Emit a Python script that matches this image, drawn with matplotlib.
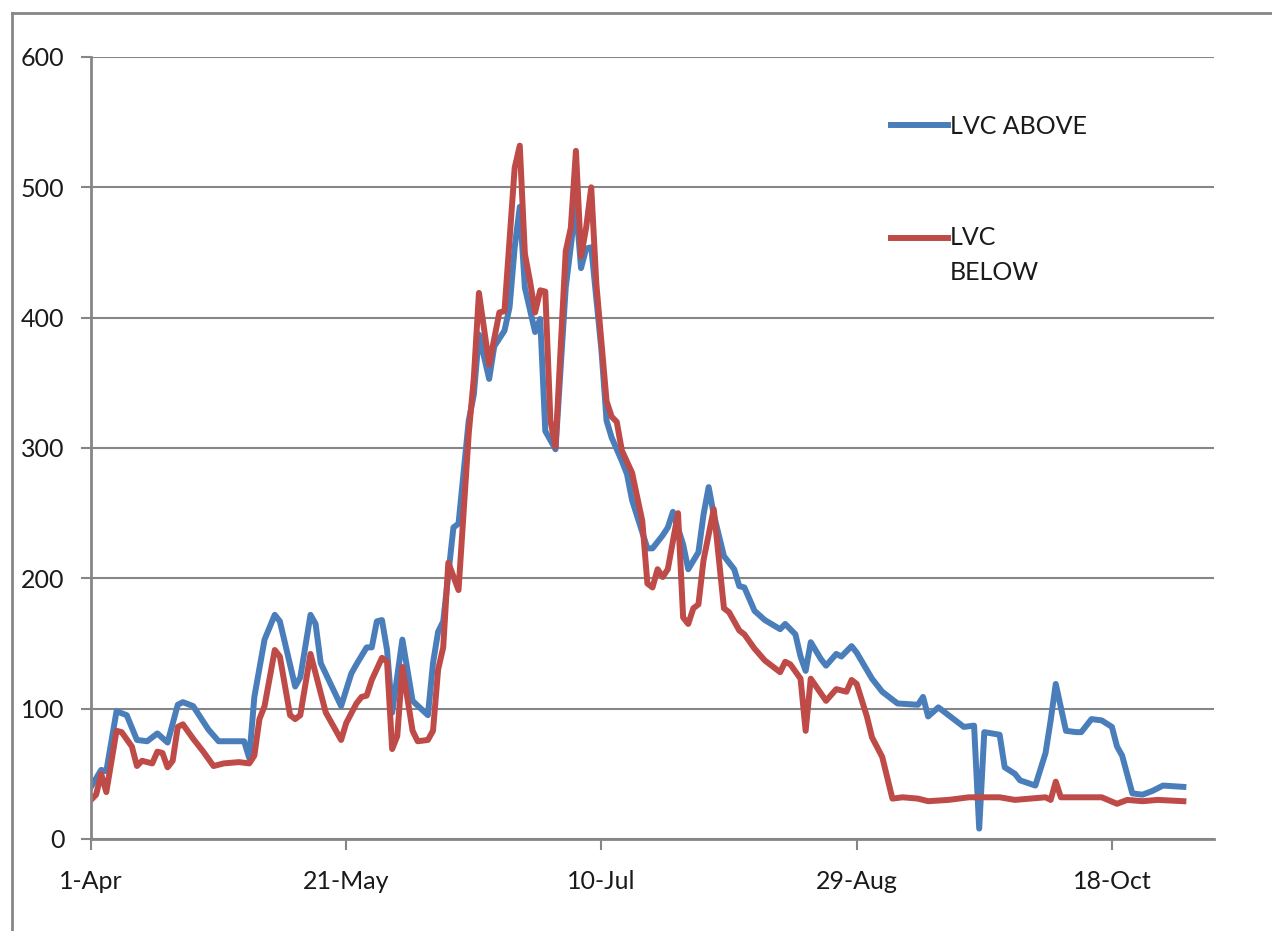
import matplotlib
matplotlib.use("Agg")
import matplotlib.pyplot as plt
import numpy as np
from matplotlib.lines import Line2D
from matplotlib.legend_handler import HandlerLine2D

plt.rcParams['font.family'] = ['Lato', 'DejaVu Sans']

# days since 1-Apr
above_days = [0, 2, 3, 5, 7, 9, 11, 13, 15, 17, 18, 20, 23, 25, 27, 30, 31, 32, 34, 36, 37,
              40, 41, 43, 44, 45, 49, 51, 52, 54, 55, 56, 57, 58, 59, 61, 63, 66, 67, 68, 69,
              71, 72, 74, 75, 76, 78, 79, 81, 82, 83, 84, 85, 87, 88, 89, 91, 93, 95, 96, 97,
              98, 100, 101, 102, 104, 105, 106, 109, 110, 112, 113, 114, 116, 117, 119, 120, 121,
              122, 124, 126, 127, 128, 130, 132, 135, 136, 138, 139, 140, 141, 143, 144, 146, 147,
              149, 150, 153, 155, 158, 162, 163, 164, 166, 168, 171, 173, 174, 175, 178, 179, 181,
              182, 185, 187, 188, 189, 191, 193, 194, 196, 198, 200, 201, 202, 204, 206, 208, 210,
              214]
above_vals = [40, 53, 52, 98, 95, 76, 75, 81, 74, 103, 105, 102, 84, 75, 75, 75, 62, 109, 153,
              172, 167, 117, 124, 172, 165, 135, 102, 127, 134, 147, 147, 167, 168, 145, 97, 153,
              106, 95, 135, 159, 167, 239, 242, 321, 341, 387, 353, 378, 390, 408, 454, 485, 423,
              389, 399, 313, 299, 423, 487, 438, 453, 454, 375, 321, 308, 290, 280, 260, 223, 223,
              233, 239, 251, 226, 207, 220, 249, 270, 249, 217, 207, 194, 193, 175, 168, 161, 165,
              157, 140, 129, 151, 138, 133, 142, 140, 148, 143, 123, 113, 104, 103, 109, 94, 101,
              95, 86, 87, 8, 82, 80, 55, 50, 45, 41, 66, 91, 119, 83, 82, 82, 92, 91, 86, 71, 64,
              35, 34, 37, 41, 40]

below_days = [0, 1, 2, 3, 5, 6, 8, 9, 10, 12, 13, 14, 15, 16, 17, 18, 20, 22, 24, 26, 29, 31,
              32, 33, 34, 36, 37, 39, 40, 41, 43, 45, 46, 49, 50, 52, 53, 54, 55, 57, 58, 59, 60,
              61, 63, 64, 66, 67, 68, 69, 70, 72, 74, 75, 76, 78, 80, 81, 83, 84, 85, 86, 87, 88,
              89, 90, 91, 93, 94, 95, 96, 97, 98, 99, 101, 102, 103, 104, 106, 108, 109, 110, 111,
              112, 113, 115, 116, 117, 118, 119, 120, 122, 124, 125, 127, 128, 130, 132, 135, 136,
              137, 139, 140, 141, 144, 146, 148, 149, 150, 152, 153, 155, 157, 159, 162, 164, 168,
              172, 178, 181, 187, 188, 189, 190, 198, 201, 203, 206, 209, 214]
below_vals = [30, 34, 50, 36, 83, 82, 71, 56, 60, 58, 67, 66, 55, 60, 86, 88, 77, 67, 56, 58, 59,
              58, 64, 92, 102, 145, 140, 95, 92, 95, 142, 112, 97, 76, 89, 104, 109, 110, 122,
              139, 136, 69, 79, 132, 83, 75, 76, 83, 130, 147, 212, 191, 311, 354, 419, 364, 404,
              405, 515, 532, 449, 428, 404, 421, 420, 321, 301, 451, 469, 528, 447, 469, 500, 426,
              336, 324, 320, 298, 281, 244, 196, 193, 207, 201, 207, 250, 170, 165, 177, 180, 214,
              253, 177, 174, 160, 157, 146, 137, 128, 136, 134, 123, 83, 123, 106, 115, 113, 122,
              119, 94, 78, 63, 31, 32, 31, 29, 30, 32, 32, 30, 32, 30, 44, 32, 32, 27, 30, 29, 30,
              29]

tick_days = [0, 50, 100, 150, 200]
tick_labels = ['1-Apr', '21-May', '10-Jul', '29-Aug', '18-Oct']
y_ticks = [0, 100, 200, 300, 400, 500, 600]

blue = '#4a7ebb'
red = '#be4b48'
grey = '#868686'


class FirstLineHandler(HandlerLine2D):
    # put the legend sample level with the first line of a two-line label
    def __init__(self, dy, **kw):
        super().__init__(**kw)
        self.dy = dy

    def create_artists(self, legend, orig_handle, xdescent, ydescent, width, height, fontsize, trans):
        arts = super().create_artists(legend, orig_handle, xdescent, ydescent, width, height,
                                      fontsize, trans)
        for a in arts:
            a.set_ydata(np.asarray(a.get_ydata()) + self.dy)
        return arts


fig = plt.figure(figsize=(12.72, 9.31), dpi=100)
ax = fig.add_axes([91 / 1272, 1 - 839 / 931, (1214 - 91) / 1272, (839 - 57) / 931])

l1, = ax.plot(above_days, above_vals, color=blue, lw=4.3, solid_joinstyle='round', label='LVC ABOVE')
l2, = ax.plot(below_days, below_vals, color=red, lw=4.3, solid_joinstyle='round', label='LVC\nBELOW')

ax.set_xlim(0, 220)
ax.set_ylim(0, 600)
ax.set_yticks(y_ticks)
ax.set_xticks(tick_days)
ax.set_xticklabels(tick_labels)
ax.grid(axis='y', color=grey, lw=1.5)
ax.set_axisbelow(True)

for s in ['top', 'right']:
    ax.spines[s].set_visible(False)
for s in ['left', 'bottom']:
    ax.spines[s].set_color(grey)
    ax.spines[s].set_linewidth(2)
ax.tick_params(axis='y', length=7, width=1.5, color=grey, pad=12, labelsize=18, labelcolor='#1a1a1a')
ax.tick_params(axis='x', length=8, width=1.5, color=grey, pad=14, labelsize=18, labelcolor='#1a1a1a')

leg = ax.legend(handles=[l1, l2], loc='upper left', bbox_to_anchor=(868 / 1272, 1 - 92 / 931),
                bbox_transform=fig.transFigure, frameon=False, fontsize=18,
                handlelength=2.3, handletextpad=0.08, labelspacing=3.55,
                handler_map={l2: FirstLineHandler(13)})
for t in leg.get_texts():
    t.set_linespacing(1.6)
    t.set_color('#1a1a1a')

# outer chart border (top and left edges visible)
fig.add_artist(Line2D([12 / 1272, 1], [1 - 13 / 931] * 2, color=grey, lw=2))
fig.add_artist(Line2D([12 / 1272] * 2, [0, 1 - 13 / 931], color=grey, lw=2))

fig.savefig('out.png', dpi=100)
